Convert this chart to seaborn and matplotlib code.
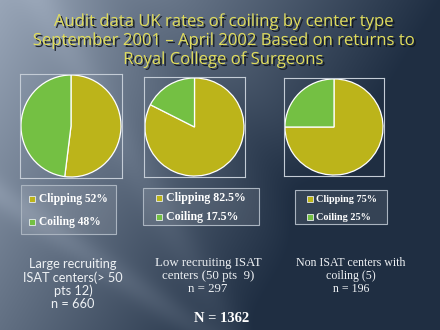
import numpy as np
import matplotlib
matplotlib.use("Agg")
import matplotlib.pyplot as plt
import matplotlib.patheffects as pe
from matplotlib.patches import Rectangle
import seaborn as sns

# Audit data: clipping vs coiling share by centre type
categories = ["Clipping", "Coiling"]
large_pct = [52, 48]
low_pct = [82.5, 17.5]
non_pct = [75, 25]
group_labels = [
    "Large recruiting\nISAT centers(> 50\npts 12)",
    "Low recruiting ISAT\ncenters (50 pts  9)",
    "Non ISAT centers with\ncoiling (5)",
]
group_n = [660, 297, 196]
total_n = 1362
title_lines = [
    "Audit data UK rates of coiling by center type",
    "September 2001 \u2013 April 2002 Based on returns to",
    "Royal College of Surgeons",
]

sns.set_theme(style="white")
colors = ["#bcb41a", "#74c043"]

W, H = 440, 330
fig = plt.figure(figsize=(W / 100, H / 100), dpi=100)


def px_axes(x0, y0, x1, y1):
    return fig.add_axes([x0 / W, 1 - y1 / H, (x1 - x0) / W, (y1 - y0) / H])


# slide background: slate-blue gradient from the top-left corner with soft light rays
bg = px_axes(0, 0, W, H)
yy, xx = np.mgrid[0:H, 0:W].astype(float)
dark = np.array([0.10, 0.16, 0.24])
light = np.array([0.64, 0.69, 0.76])
w = 0.92 - 0.0020 * xx - 0.0012 * yy


def ray(x0, y0, x1, y1, width, amp):
    vx, vy = x1 - x0, y1 - y0
    dist = np.abs((xx - x0) * vy - (yy - y0) * vx) / np.hypot(vx, vy)
    return amp * np.exp(-(dist / width) ** 2)


w = w + ray(0, 195, 200, 330, 14, 0.12) + ray(40, 0, 230, 330, 18, 0.08)
w = w - ray(120, 0, 330, 230, 30, 0.06)
w = np.clip(w, 0.04, 1)
img = dark[None, None, :] * (1 - w[..., None]) + light[None, None, :] * w[..., None]
bg.imshow(img, extent=[0, W, H, 0], aspect="auto")
bg.set_axis_off()

shadow = [pe.withSimplePatchShadow(offset=(1.4, -1.4), shadow_rgbFace="#10141a", alpha=0.85)]
for i, line in enumerate(title_lines):
    fig.text(223 / W, 1 - (22 + i * 19) / H, line, ha="center", va="center",
             color="#e0dc5c", fontsize=12, family="Open Sans", path_effects=shadow)

pie_boxes = [(20, 74, 122, 178), (144, 77, 245, 177), (284, 78, 384, 176)]
values_sets = [large_pct, low_pct, non_pct]
for (x0, y0, x1, y1), vals in zip(pie_boxes, values_sets):
    ax = px_axes(x0, y0, x1, y1)
    ax.pie(vals, colors=colors, startangle=90, counterclock=False,
           wedgeprops=dict(edgecolor="white", linewidth=0.9))
    ax.set_xlim(-1.02, 1.02)
    ax.set_ylim(-1.02, 1.02)
    ax.set_aspect("auto")
    ax.set_frame_on(True)
    ax.patch.set_alpha(0.0)
    ax.set_xticks([])
    ax.set_yticks([])
    for s in ax.spines.values():
        s.set_visible(True)
        s.set_color("#c4ccd6")
        s.set_linewidth(0.8)

# legends: box, rows (y), square x, text x, font size
legend_specs = [
    ((21, 185, 116, 234), (199, 222), 32, 39, 8.3),
    ((143, 188, 259, 225), (198, 217), 159, 166, 8.6),
    ((295, 190, 387, 224), (199, 217), 310, 316, 7.4),
]
for (box, rows, sqx, tx, fs), vals in zip(legend_specs, values_sets):
    x0, y0, x1, y1 = box
    fig.patches.append(Rectangle((x0 / W, 1 - y1 / H), (x1 - x0) / W, (y1 - y0) / H,
                                 transform=fig.transFigure, facecolor=(1, 1, 1, 0.1),
                                 edgecolor="#aab4c0", linewidth=0.8))
    for ry, cat, v, c in zip(rows, categories, vals, colors):
        fig.patches.append(Rectangle(((sqx - 3) / W, 1 - (ry + 3) / H), 6 / W, 6 / H,
                                     transform=fig.transFigure, facecolor=c,
                                     edgecolor="#e8ecef", linewidth=0.6))
        fig.text(tx / W, 1 - ry / H, f"{cat} {v:g}%", ha="left", va="center",
                 color="white", fontsize=fs, fontweight="bold", family="Liberation Serif")

# centre-type captions
fig.text(73 / W, 1 - 284 / H, group_labels[0] + f"\nn = {group_n[0]}", ha="center",
         va="center", color="#eef1f4", fontsize=9.2, family="Lato", linespacing=1.1)
for cx, lbl, n, fs in [(208, group_labels[1], group_n[1], 9.3),
                       (351, group_labels[2], group_n[2], 8.6)]:
    fig.text(cx / W, 1 - 276 / H, lbl + f"\nn = {n}", ha="center", va="center",
             color="#eef1f4", fontsize=fs, family="Liberation Serif", linespacing=1.08)

fig.text(222 / W, 1 - 319 / H, f"N = {total_n}", ha="center", va="center",
         color="white", fontsize=10.5, fontweight="bold", family="Liberation Serif")

fig.savefig("out.png", dpi=100)
